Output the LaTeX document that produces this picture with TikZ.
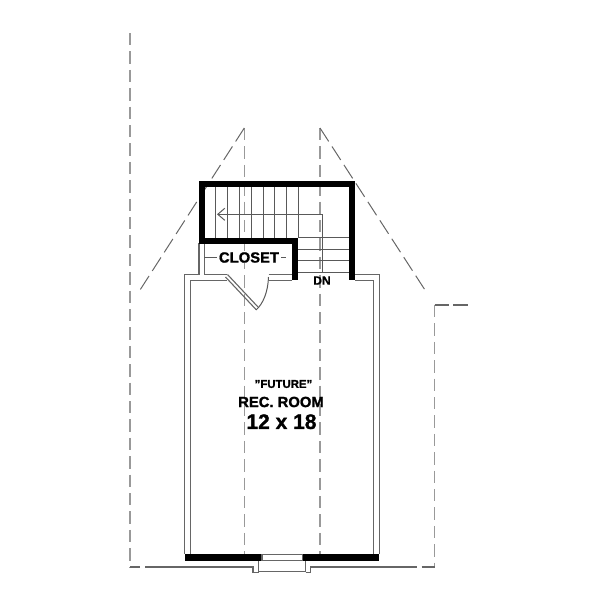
\documentclass[tikz,border=0pt]{standalone}
\usepackage{fontspec}
\setmainfont[BoldFeatures={FakeBold=1.2}]{Liberation Sans}
\usetikzlibrary{arrows.meta}

\begin{document}
\begin{tikzpicture}[x=0.5pt,y=-0.5pt]
	% Define styles for walls, lines and labels
	\tikzstyle{wall} = [line width=3pt,draw=black,line cap=butt,line join=miter]
	\tikzstyle{thinwall} = [line width=0.55pt,draw=black!60]
	\tikzstyle{tread} = [line width=0.5pt,draw=black!65]
	\tikzstyle{roofline} = [line width=0.5pt,draw=black!60,dash pattern=on 8pt off 3pt]
	\tikzstyle{ridge} = [line width=0.65pt,draw=black!40,dash pattern=on 6.2pt off 3pt]
	\tikzstyle{roomlabel} = [inner sep=0pt]
	\useasboundingbox (0,0) rectangle (600,600);

	% Roof lines
	\draw[ridge] (130,33) -- (130,567);
	\draw[ridge] (244.3,128) -- (244.3,554);
	\draw[ridge] (320,128) -- (320,554);
	\draw[roofline] (244.3,128) -- (140,290);
	\draw[roofline] (320,128) -- (425,290);
	\draw[ridge] (434.5,305) -- (434.5,567);
	\draw[thinwall] (434.5,305) -- (449,305);
	\draw[thinwall] (453,305) -- (468,305);

	% Ground line and entry
	\draw[thinwall] (130,567) -- (140,567);
	\draw[thinwall] (145,567) -- (253,567) -- (253,572.5) -- (258.5,572.5) -- (258.5,560);
	\draw[thinwall] (258.5,571.5) -- (305.5,571.5) -- (305.5,560);
	\draw[thinwall] (305.5,572.5) -- (310.5,572.5) -- (310.5,567) -- (416.7,567);
	\draw[thinwall] (421.7,567) -- (434.5,567);

	% Stair treads and run arrow
	\foreach \tx in {215.7,227.5,239.3,251,263,274.7,286.4,298.3}
		\draw[tread] (\tx,187) -- (\tx,238);
	\foreach \ty in {237.7,249,260.7,272.3}
		\draw[tread] (298,\ty) -- (349,\ty);
	\draw[tread,{Straight Barb[length=3.5pt,width=6pt]}-] (217,214.3) -- (322.7,214.3) -- (322.7,272.3);

	% Closet and room walls
	\draw[thinwall] (199,243) -- (199,274.5) -- (184.7,274.5) -- (184.7,554);
	\draw[thinwall] (204.3,243) -- (204.3,274.5) -- (227,274.5);
	\draw[thinwall] (227,280.2) -- (190.7,280.2) -- (190.7,554);
	\draw[thinwall] (268.5,274.5) -- (292,274.5);
	\draw[thinwall] (268.5,280.2) -- (292,280.2);
	\draw[thinwall] (355,274.5) -- (379.3,274.5) -- (379.3,554);
	\draw[thinwall] (355,280.2) -- (373.3,280.2) -- (373.3,554);
	\draw[tread,dash pattern=on 8pt off 3pt] (204.3,257) -- (292,257);

	% Door
	\draw[thinwall] (227.5,274.5) -- (258,307);
	\draw[thinwall] (225.5,277) -- (256,309.5);
	\draw[tread] (256,310) .. controls (263,304) and (268,292) .. (268.5,277);

	% Thick walls
	\draw[wall] (295,280) -- (295,240.5) -- (202,240.5) -- (202,184) -- (351.5,184) -- (351.5,280);
	\draw[wall,line width=3.2pt] (185,557.5) -- (262,557.5);
	\draw[wall,line width=3.2pt] (302.5,557.5) -- (379,557.5);
	\draw[thinwall] (262,554.5) rectangle (302.5,560.5);

	% Labels
	\node[roomlabel,fill=white,inner xsep=1pt,font=\bfseries\fontsize{7.4}{7.4}\selectfont] (closet) at (249,257.5) {CLOSET};
	\node[roomlabel,font=\bfseries\fontsize{6}{6}\selectfont] (dn) at (322,280.5) {DN};
	\node[roomlabel,font=\bfseries\fontsize{5.7}{5.7}\selectfont] (future) at (283.5,384) {"FUTURE"};
	\node[roomlabel,font=\bfseries\fontsize{7.4}{7.4}\selectfont] (recroom) at (281,402) {REC. ROOM};
	\node[roomlabel,font=\bfseries\fontsize{10.5}{10.5}\selectfont] (size) at (281.5,421.7) {12 x 18};
\end{tikzpicture}
\end{document}
